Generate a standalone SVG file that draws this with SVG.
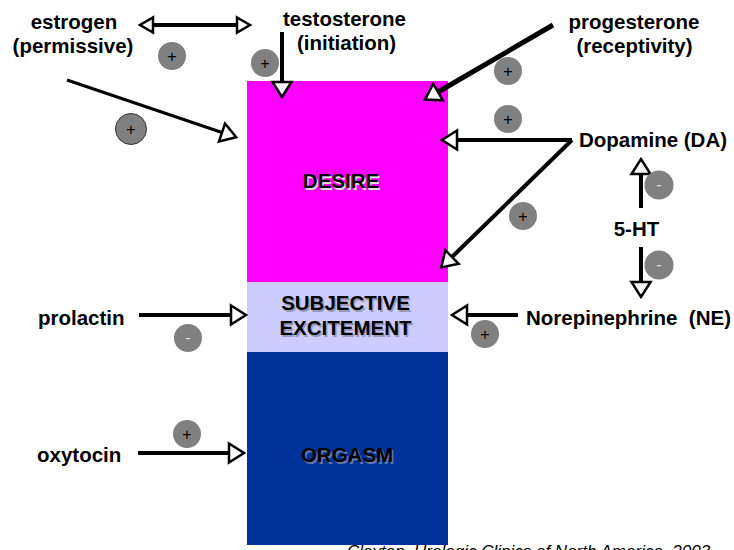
<svg xmlns="http://www.w3.org/2000/svg" width="734" height="550" viewBox="0 0 734 550">
<style>
.t{font-family:"Liberation Sans",Arial,Helvetica,sans-serif;font-weight:bold;font-size:20.5px;fill:#000}
.c{text-anchor:middle}
.sh{fill:#dcdcdc}
.ln{fill:none;stroke:#000;stroke-width:4;marker-end:url(#ah)}
.sg{fill:#808080}
.plus{font-family:"Liberation Sans",Arial,sans-serif;font-size:16px;text-anchor:middle;fill:#000}
.minus{font-family:"Liberation Sans",Arial,sans-serif;font-size:15px;text-anchor:middle;fill:#e6e6e6}
.cite{font-family:"Liberation Sans",Arial,sans-serif;font-style:italic;font-size:17px;fill:#000}
</style>
<defs>
<marker id="ah" viewBox="-3 -13 22 26" markerWidth="22" markerHeight="26" refX="0" refY="0" orient="auto" markerUnits="userSpaceOnUse" overflow="visible">
<path d="M0,-9.5 L15,0 L0,9.5 Z" fill="#fff" stroke="#000" stroke-width="2.5"/>
</marker>
<marker id="ahs" viewBox="-3 -10 19 20" markerWidth="19" markerHeight="20" refX="0" refY="0" orient="auto-start-reverse" markerUnits="userSpaceOnUse" overflow="visible">
<path d="M0,-7.5 L13,0 L0,7.5 Z" fill="#fff" stroke="#000" stroke-width="2.5"/>
</marker>
</defs>
<rect width="734" height="550" fill="#fff"/>

<g id="desire">
<rect x="247" y="81" width="201" height="201" fill="#ff00ff"/>
<text class="t c sh" x="342.5" y="189.5">DESIRE</text>
<text class="t c" x="341" y="188">DESIRE</text>
</g>
<g id="subjective-excitement">
<rect x="247" y="282" width="201" height="70" fill="#ccccff"/>
<text class="t c" x="347" y="311.5" style="fill:#9a9ab8">SUBJECTIVE</text>
<text class="t c" x="347" y="336.5" style="fill:#9a9ab8">EXCITEMENT</text>
<text class="t c" x="345.5" y="310">SUBJECTIVE</text>
<text class="t c" x="345.5" y="335">EXCITEMENT</text>
</g>
<g id="orgasm">
<rect x="247" y="352" width="201" height="193" fill="#003399"/>
<text class="t c" x="348.5" y="463.5" style="fill:#6677aa">ORGASM</text>
<text class="t c" x="347" y="462">ORGASM</text>
</g>

<g id="estrogen">
<text class="t c" x="74" y="29">estrogen</text>
<text class="t c" x="73" y="53">(permissive)</text>
</g>
<g id="testosterone">
<text class="t c" x="344.5" y="26">testosterone</text>
<text class="t c" x="346.5" y="50">(initiation)</text>
</g>
<g id="progesterone">
<text class="t c" x="634" y="29">progesterone</text>
<text class="t c" x="634.5" y="53">(receptivity)</text>
</g>
<g id="dopamine">
<text class="t" x="579" y="147">Dopamine (DA)</text>
</g>
<g id="serotonin">
<text class="t c" x="636.5" y="236">5-HT</text>
</g>
<g id="norepinephrine">
<text class="t" x="731" y="325" text-anchor="end" xml:space="preserve">Norepinephrine  (NE)</text>
</g>
<g id="prolactin">
<text class="t" x="38" y="325">prolactin</text>
</g>
<g id="oxytocin">
<text class="t" x="37" y="462">oxytocin</text>
</g>

<g id="connectors">
<path d="M153,25 L237,25" fill="none" stroke="#000" stroke-width="4" marker-start="url(#ahs)" marker-end="url(#ahs)"/>
<path class="ln" d="M282,32 L282,82"/>
<path class="ln" d="M553,25 L438,92" style="stroke-width:5"/>
<path class="ln" d="M67,80 L222,132.5" style="stroke-width:3"/>
<path class="ln" d="M572,140 L457,140"/>
<path class="ln" d="M572,140 L452,257"/>
<path class="ln" d="M641,208 L641,174"/>
<path class="ln" d="M641,247 L641,282"/>
<path class="ln" d="M139,315 L231,315"/>
<path class="ln" d="M518,315 L467,315"/>
<path class="ln" d="M138,453 L229,453"/>
</g>

<g id="signs">
<circle class="sg" cx="172" cy="56" r="14"/><text class="plus" x="172" y="61.5">+</text>
<circle class="sg" cx="265" cy="63" r="14"/><text class="plus" x="265" y="68.5">+</text>
<circle class="sg" cx="131" cy="129" r="15.5" stroke="#333" stroke-width="1"/><text class="plus" x="131" y="134.5">+</text>
<circle class="sg" cx="508" cy="71" r="14"/><text class="plus" x="508" y="76.5">+</text>
<circle class="sg" cx="508" cy="119" r="14"/><text class="plus" x="508" y="124.5">+</text>
<circle class="sg" cx="523" cy="216" r="14"/><text class="plus" x="523" y="221.5">+</text>
<circle class="sg" cx="659" cy="185" r="14.5"/><text class="minus" x="659" y="190">-</text>
<circle class="sg" cx="659" cy="265" r="14.5"/><text class="minus" x="659" y="270">-</text>
<circle class="sg" cx="188" cy="338" r="14"/><text class="minus" x="188" y="343">-</text>
<circle class="sg" cx="485" cy="334" r="14"/><text class="plus" x="485" y="339.5">+</text>
<circle class="sg" cx="187" cy="434" r="14"/><text class="plus" x="187" y="439.5">+</text>
</g>

<text class="cite" x="347" y="557">Clayton, Urologic Clinics of North America, 2003</text>
</svg>
